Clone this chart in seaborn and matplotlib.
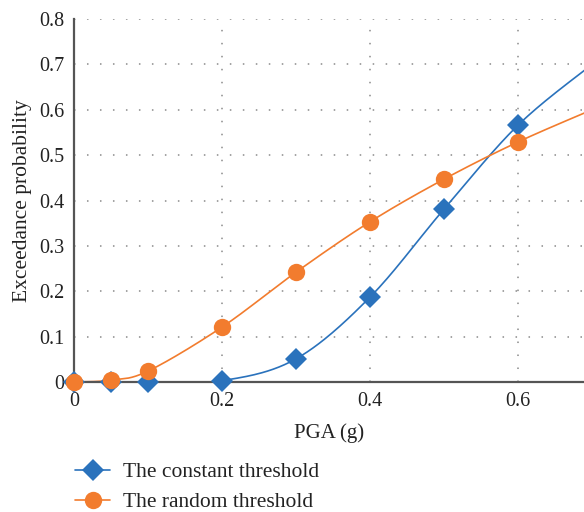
import numpy as np
import pandas as pd
import matplotlib
matplotlib.use("Agg")
import matplotlib.pyplot as plt
from matplotlib.lines import Line2D
import seaborn as sns

# ---- data ----
pga = [0.0, 0.05, 0.1, 0.2, 0.3, 0.4, 0.5, 0.6, 0.7]
constant_threshold = [0.0, 0.0, 0.0, 0.003, 0.051, 0.187, 0.381, 0.566, 0.700]
random_threshold = [0.0, 0.004, 0.024, 0.121, 0.242, 0.353, 0.447, 0.529, 0.600]
series_names = ["The constant threshold", "The random threshold"]
x_ticks = [0.0, 0.2, 0.4, 0.6]
x_tick_labels = ["0", "0.2", "0.4", "0.6"]
y_ticks = [0.0, 0.1, 0.2, 0.3, 0.4, 0.5, 0.6, 0.7, 0.8]
y_tick_labels = ["0", "0.1", "0.2", "0.3", "0.4", "0.5", "0.6", "0.7", "0.8"]

BLUE = "#2A72BC"
ORANGE = "#F27C2E"

sns.set_theme(style="white")
plt.rcParams["font.family"] = ["Liberation Serif", "DejaVu Serif"]

fig = plt.figure(figsize=(5.84, 5.12), dpi=100)
ax = fig.add_axes([74 / 584, 1 - 382 / 512, 1 - 74 / 584, (382 - 19) / 512])

XMAX = (584 - 74) / 740.0


def smooth(xs, ys, n=40):
    """Excel-like smoothed line (Catmull-Rom Bezier) through the points, drawn in screen-scaled space."""
    sx, sy = 740.0, 454.0
    P = np.column_stack([np.asarray(xs) * sx, np.asarray(ys) * sy])
    out = []
    for i in range(len(P) - 1):
        p0 = P[i - 1] if i > 0 else P[i]
        p1, p2 = P[i], P[i + 1]
        p3 = P[i + 2] if i + 2 < len(P) else P[i + 1]
        c1 = p1 + (p2 - p0) / 6.0
        c2 = p2 - (p3 - p1) / 6.0
        t = np.linspace(0, 1, n)[:, None]
        seg = ((1 - t) ** 3) * p1 + 3 * ((1 - t) ** 2) * t * c1 + 3 * (1 - t) * t ** 2 * c2 + t ** 3 * p2
        out.append(seg if i == 0 else seg[1:])
    out = np.vstack(out)
    return out[:, 0] / sx, out[:, 1] / sy


styles = [
    dict(color=BLUE, marker="D", ms=11),
    dict(color=ORANGE, marker="o", ms=12.5),
]
for name, vals, st in zip(series_names, [constant_threshold, random_threshold], styles):
    cx, cy = smooth(pga, vals)
    sns.lineplot(x=cx, y=cy, sort=False, ax=ax, color=st["color"], lw=1.2, legend=False)
    df = pd.DataFrame({"x": pga, "y": vals})
    df = df[df["x"] <= 0.6]
    ax.plot(df["x"], df["y"], linestyle="none", marker=st["marker"], ms=st["ms"],
            color=st["color"], markeredgewidth=0, zorder=3, clip_on=False)

ax.set_xlim(0, XMAX)
ax.set_ylim(0, 0.8)
ax.set_xticks(x_ticks)
ax.set_xticklabels(x_tick_labels)
ax.set_yticks(y_ticks)
ax.set_yticklabels(y_tick_labels)
ax.tick_params(axis="both", length=0, labelsize=14.5, colors="#222222")
ax.tick_params(axis="x", pad=7)
ax.tick_params(axis="y", pad=7)
ax.grid(True, linestyle=(0, (1, 7.5)), color="#8A8A8A", lw=1.1)
ax.set_axisbelow(True)
for s in ["top", "right"]:
    ax.spines[s].set_visible(False)
for s in ["left", "bottom"]:
    ax.spines[s].set_color("#555555")
    ax.spines[s].set_linewidth(1.6)
ax.set_xlabel("PGA (g)", fontsize=15, color="#222222", labelpad=9)
ax.set_ylabel("Exceedance probability", fontsize=15.5, color="#222222", labelpad=5)

handles = [
    Line2D([], [], color=st["color"], lw=1.2, marker=st["marker"], ms=st["ms"], markeredgewidth=0)
    for st in styles
]
fig.legend(handles, series_names, loc="upper left", bbox_to_anchor=(56 / 584, 1 - 443 / 512),
           frameon=False, fontsize=15.5, handlelength=1.6, handletextpad=0.6, labelspacing=0.45,
           labelcolor="#222222")

fig.savefig("out.png", dpi=100)
